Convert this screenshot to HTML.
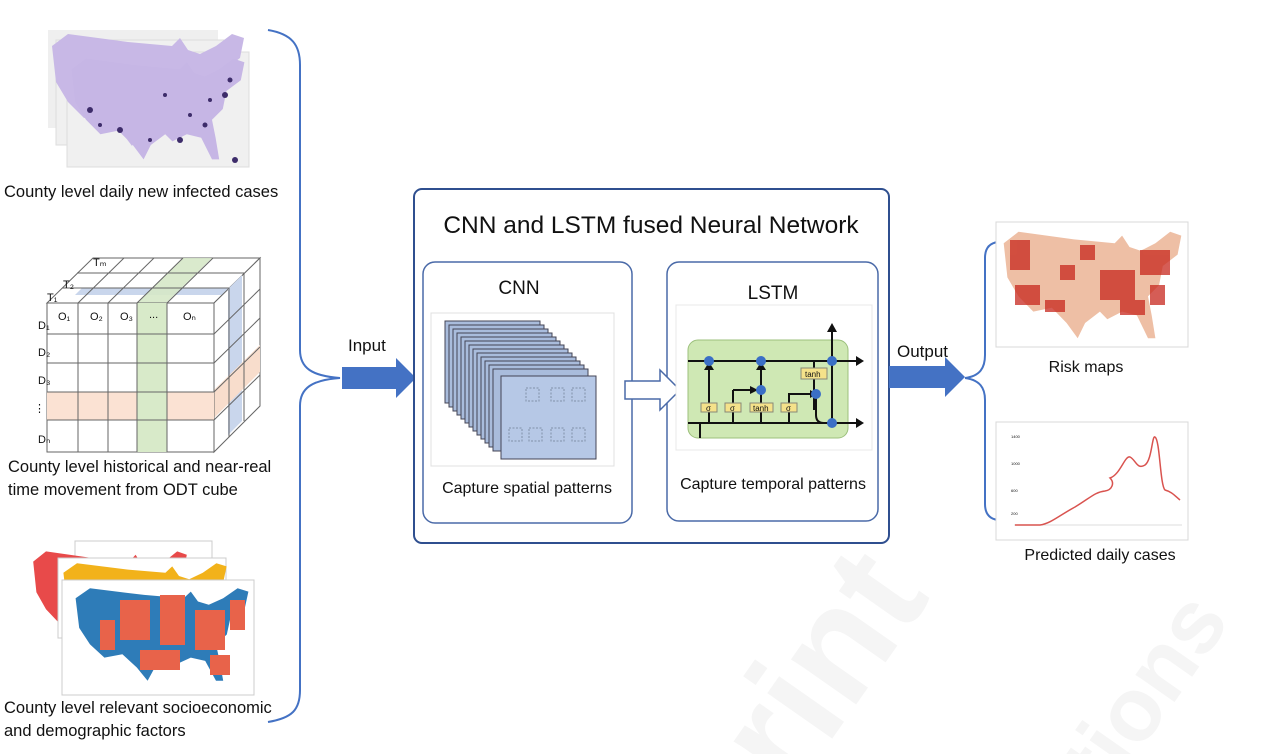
<!DOCTYPE html>
<html><head><meta charset="utf-8"><style>
html,body{margin:0;padding:0;background:#fff;overflow:hidden;width:1270px;height:754px;}
svg{display:block;}
text{font-family:"Liberation Sans",sans-serif;fill:#111;}
</style></head><body>
<svg width="1270" height="754" viewBox="0 0 1270 754" xmlns="http://www.w3.org/2000/svg">
<defs>
<path id="us" d="M2,8 L10,2 L40,6 L62,8 L66,4 L70,10 L76,12 L84,8 L92,2 L98,4 L96,14 L88,20 L86,30 L80,36 L82,46 L84,58 L80,58 L74,46 L66,44 L58,48 L54,44 L46,50 L42,58 L36,50 L28,42 L18,44 L10,36 L4,26 Z"/>
</defs>
<!-- watermark -->
<g font-family="Liberation Sans" font-weight="bold">
<text x="660" y="760" font-size="150" transform="rotate(-55 760 650)" style="fill:#f5f5f5">rint</text>
<text x="1000" y="770" font-size="90" transform="rotate(-55 1080 680)" style="fill:#f5f5f5">tions</text>
</g>

<!-- Map 1 (purple stack) -->
<rect x="48" y="30" width="170" height="98" fill="#efefef"/>
<rect x="56" y="40" width="175" height="105" fill="#f0f0f0" stroke="#ddd"/>
<rect x="67" y="52" width="182" height="115" fill="#f0f0f0" stroke="#ddd"/>
<g transform="translate(48,30) scale(2,2)"><use href="#us" fill="#c8b8e6"/></g>
<g transform="translate(68,55) scale(1.8,1.8)"><use href="#us" fill="#c6b6e5"/></g>
<g fill="#3d2c6a">
<circle cx="90" cy="110" r="3"/><circle cx="100" cy="125" r="2"/><circle cx="120" cy="130" r="3"/><circle cx="180" cy="140" r="3"/><circle cx="205" cy="125" r="2.5"/><circle cx="225" cy="95" r="3"/><circle cx="230" cy="80" r="2.5"/><circle cx="210" cy="100" r="2"/><circle cx="190" cy="115" r="2"/><circle cx="165" cy="95" r="2"/><circle cx="235" cy="160" r="3"/><circle cx="150" cy="140" r="2"/>
</g>
<text x="4" y="197" font-size="16.5">County level daily new infected cases</text>

<!-- Cube -->
<g>
<polygon points="47,303 214,303 260,258 93,258" fill="#fff" stroke="#666"/>
<polygon points="82,288 242,288 235,295 75,295" fill="#c9d6ec"/>
<polygon points="137,303 166,303 212,258 183,258" fill="#d6e8c8" opacity="0.9"/>
<polygon points="214,303 260,258 260,406 214,452" fill="#fff" stroke="#666"/>
<polygon points="228,289 242,275 242,421 228,435" fill="#c9d6ec"/>
<polygon points="214,390 260,345 260,372 214,418" fill="#f8ddcc"/>
<rect x="47" y="303" width="167" height="149" fill="#fff" stroke="#666"/>
<rect x="47" y="392" width="167" height="28" fill="#fbe2d3"/>
<rect x="137" y="303" width="30" height="149" fill="#d8eac9"/>
<g stroke="#666" stroke-width="1">
<line x1="78" y1="303" x2="78" y2="452"/><line x1="108" y1="303" x2="108" y2="452"/><line x1="137" y1="303" x2="137" y2="452"/><line x1="167" y1="303" x2="167" y2="452"/>
<line x1="47" y1="334" x2="214" y2="334"/><line x1="47" y1="363" x2="214" y2="363"/><line x1="47" y1="392" x2="214" y2="392"/><line x1="47" y1="420" x2="214" y2="420"/>
<line x1="78" y1="303" x2="124" y2="258"/><line x1="108" y1="303" x2="154" y2="258"/><line x1="137" y1="303" x2="183" y2="258"/><line x1="167" y1="303" x2="213" y2="258"/>
<line x1="62" y1="288" x2="229" y2="288"/><line x1="77" y1="273" x2="244" y2="273"/>
<line x1="229" y1="288" x2="229" y2="437"/><line x1="244" y1="273" x2="244" y2="421"/>
<line x1="214" y1="334" x2="260" y2="289"/><line x1="214" y1="363" x2="260" y2="318"/><line x1="214" y1="392" x2="260" y2="347"/><line x1="214" y1="420" x2="260" y2="375"/>
</g>
<g font-size="11" fill="#333">
<text x="58" y="320">O₁</text><text x="90" y="320">O₂</text><text x="120" y="320">O₃</text><text x="149" y="318">...</text><text x="183" y="320">Oₙ</text>
<text x="38" y="329">D₁</text><text x="38" y="356">D₂</text><text x="38" y="384">D₃</text><text x="34" y="412">⋮</text><text x="38" y="443">Dₙ</text>
<text x="47" y="301">T₁</text><text x="63" y="288">T₂</text><text x="93" y="266">Tₘ</text>
</g>
</g>
<text x="8" y="472" font-size="16.5">County level historical and near-real</text>
<text x="8" y="495" font-size="16.5">time movement from ODT cube</text>

<!-- Map 3 stack -->
<rect x="75" y="541" width="137" height="25" fill="#fff" stroke="#ccc"/>
<g transform="translate(30,548) scale(1.6,1.7)"><use href="#us" fill="#e84a4a"/></g>
<rect x="58" y="558" width="168" height="80" fill="#fff" stroke="#ccc"/>
<g transform="translate(60,560) scale(1.7,1.6)"><use href="#us" fill="#f2b21a"/></g>
<rect x="62" y="580" width="192" height="115" fill="#fff" stroke="#ccc"/>
<g transform="translate(72,585) scale(1.8,1.65)"><use href="#us" fill="#2e7cb8"/></g>
<g fill="#e8634a">
<rect x="120" y="600" width="30" height="40"/><rect x="160" y="595" width="25" height="50"/><rect x="195" y="610" width="30" height="40"/><rect x="140" y="650" width="40" height="20"/><rect x="100" y="620" width="15" height="30"/><rect x="210" y="655" width="20" height="20"/><rect x="230" y="600" width="15" height="30"/>
</g>
<text x="4" y="713" font-size="16.5">County level relevant socioeconomic</text>
<text x="4" y="736" font-size="16.5">and demographic factors</text>

<!-- left brace -->
<path d="M268,30 C292,34 300,45 300,65 L300,350 C300,368 312,376 340,378 C312,380 300,388 300,406 L300,690 C300,710 292,718 268,722" fill="none" stroke="#4472c4" stroke-width="2"/>
<polygon points="342,367 396,367 396,358 416,378 396,398 396,389 342,389" fill="#4472c4"/>
<text x="348" y="351" font-size="17">Input</text>

<!-- main box -->
<rect x="414" y="189" width="475" height="354" rx="8" fill="#fff" stroke="#2f4f8f" stroke-width="2"/>
<text x="651" y="233" font-size="24.5" text-anchor="middle">CNN and LSTM fused Neural Network</text>
<rect x="423" y="262" width="209" height="261" rx="12" fill="#fff" stroke="#4a6aa8" stroke-width="1.5"/>
<rect x="667" y="262" width="211" height="259" rx="12" fill="#fff" stroke="#4a6aa8" stroke-width="1.5"/>
<text x="519" y="294" font-size="19" text-anchor="middle">CNN</text>
<text x="773" y="299" font-size="19" text-anchor="middle">LSTM</text>
<text x="527" y="493" font-size="16" text-anchor="middle">Capture spatial patterns</text>
<text x="773" y="489" font-size="16" text-anchor="middle">Capture temporal patterns</text>

<!-- CNN image -->
<rect x="431" y="313" width="183" height="153" fill="#fff" stroke="#e0e0e0"/>
<g stroke="#445" stroke-width="1" fill="#a9bcdc">
<rect x="445" y="321" width="95" height="82"/><rect x="449" y="325" width="95" height="82"/><rect x="453" y="329" width="95" height="82"/><rect x="457" y="333" width="95" height="82"/><rect x="461" y="337" width="95" height="82"/><rect x="465" y="341" width="95" height="82"/><rect x="469" y="345" width="95" height="82"/><rect x="473" y="349" width="95" height="82"/><rect x="477" y="353" width="95" height="82"/><rect x="481" y="357" width="95" height="82"/><rect x="485" y="361" width="95" height="82"/><rect x="489" y="365" width="95" height="82"/><rect x="493" y="369" width="95" height="82"/>
</g>
<rect x="501" y="376" width="95" height="83" fill="#b6c8e6" stroke="#445"/>
<g fill="none" stroke="#8090a8" stroke-dasharray="2,1.5">
<rect x="526" y="388" width="13" height="13"/><rect x="551" y="388" width="13" height="13"/><rect x="572" y="388" width="13" height="13"/>
<rect x="509" y="428" width="13" height="13"/><rect x="529" y="428" width="13" height="13"/><rect x="551" y="428" width="13" height="13"/><rect x="572" y="428" width="13" height="13"/>
</g>
<polygon points="625,381 660,381 660,370 680,390 660,410 660,399 625,399" fill="#fff" stroke="#4a6aa8" stroke-width="1.5"/>

<!-- LSTM image -->
<rect x="676" y="305" width="196" height="145" fill="#fff" stroke="#e8e8e8"/>
<rect x="688" y="340" width="160" height="98" rx="10" fill="#cfe8b4" stroke="#9cc07c"/>
<g stroke="#111" stroke-width="2" fill="none">
<line x1="688" y1="361" x2="856" y2="361"/>
<line x1="688" y1="423" x2="856" y2="423"/>
<line x1="700" y1="423" x2="700" y2="438"/>
<line x1="709" y1="423" x2="709" y2="367"/>
<line x1="733" y1="423" x2="733" y2="390"/><path d="M733,390 L750,390"/>
<line x1="761" y1="423" x2="761" y2="367"/>
<path d="M789,423 L789,394 L810,394"/>
<line x1="814" y1="361" x2="814" y2="410"/><path d="M816,394 L816,415 Q816,423 824,423"/>
<line x1="832" y1="423" x2="832" y2="330"/>
</g>
<g fill="#111">
<polygon points="856,356 864,361 856,366"/><polygon points="856,418 864,423 856,428"/><polygon points="827,332 832,323 837,332"/>
<polygon points="704,370 709,362 714,370"/><polygon points="756,370 761,362 766,370"/><polygon points="750,386 758,390 750,394"/><polygon points="810,390 817,394 810,398"/>
</g>
<g fill="#3b6fc6"><circle cx="709" cy="361" r="5"/><circle cx="761" cy="361" r="5"/><circle cx="761" cy="390" r="5"/><circle cx="816" cy="394" r="5"/><circle cx="832" cy="361" r="5"/><circle cx="832" cy="423" r="5"/></g>
<g font-size="8" fill="#222">
<rect x="701" y="403" width="16" height="9" fill="#f5e28a" stroke="#887"/><text x="706" y="411">σ</text>
<rect x="725" y="403" width="16" height="9" fill="#f5e28a" stroke="#887"/><text x="730" y="411">σ</text>
<rect x="750" y="403" width="23" height="9" fill="#f5e28a" stroke="#887"/><text x="753" y="411">tanh</text>
<rect x="781" y="403" width="16" height="9" fill="#f5e28a" stroke="#887"/><text x="786" y="411">σ</text>
<rect x="801" y="368" width="26" height="11" fill="#f5e28a" stroke="#887"/><text x="805" y="377">tanh</text>
</g>

<!-- Output arrow -->
<polygon points="889,366 945,366 945,357 965,377 945,397 945,388 889,388" fill="#4472c4"/>
<text x="897" y="357" font-size="17">Output</text>
<path d="M965,378 C980,376 985,368 985,355 L985,258 C985,248 990,243 998,242 M965,378 C980,380 985,388 985,400 L985,504 C985,514 990,519 998,520" fill="none" stroke="#4472c4" stroke-width="2"/>

<!-- Risk map -->
<rect x="996" y="222" width="192" height="125" fill="#fff" stroke="#d8d8d8"/>
<g transform="translate(1000,228) scale(1.85,1.9)"><use href="#us" fill="#eebfa5"/></g>
<g fill="#c8281e" opacity="0.75">
<rect x="1010" y="240" width="20" height="30"/><rect x="1015" y="285" width="25" height="20"/><rect x="1045" y="300" width="20" height="12"/><rect x="1100" y="270" width="35" height="30"/><rect x="1140" y="250" width="30" height="25"/><rect x="1120" y="300" width="25" height="15"/><rect x="1080" y="245" width="15" height="15"/><rect x="1150" y="285" width="15" height="20"/><rect x="1060" y="265" width="15" height="15"/>
</g>
<text x="1086" y="372" font-size="16" text-anchor="middle">Risk maps</text>

<!-- chart -->
<rect x="996" y="422" width="192" height="118" fill="#fff" stroke="#d8d8d8"/>
<g font-size="4" fill="#999"><text x="1011" y="438">1400</text><text x="1011" y="465">1000</text><text x="1011" y="492">600</text><text x="1011" y="515">200</text></g>
<line x1="1014" y1="525" x2="1182" y2="525" stroke="#ddd"/>
<path d="M1015,525 L1040,525 C1050,524 1060,515 1075,507 C1090,498 1095,492 1105,491 C1112,490 1115,483 1110,478 C1120,475 1125,455 1130,457 C1136,460 1137,470 1145,465 C1152,460 1152,435 1155,437 C1160,440 1160,485 1165,490 C1172,492 1174,495 1180,500" fill="none" stroke="#d9534f" stroke-width="1.5"/>
<text x="1100" y="560" font-size="16" text-anchor="middle">Predicted daily cases</text>
</svg>
</body></html>
